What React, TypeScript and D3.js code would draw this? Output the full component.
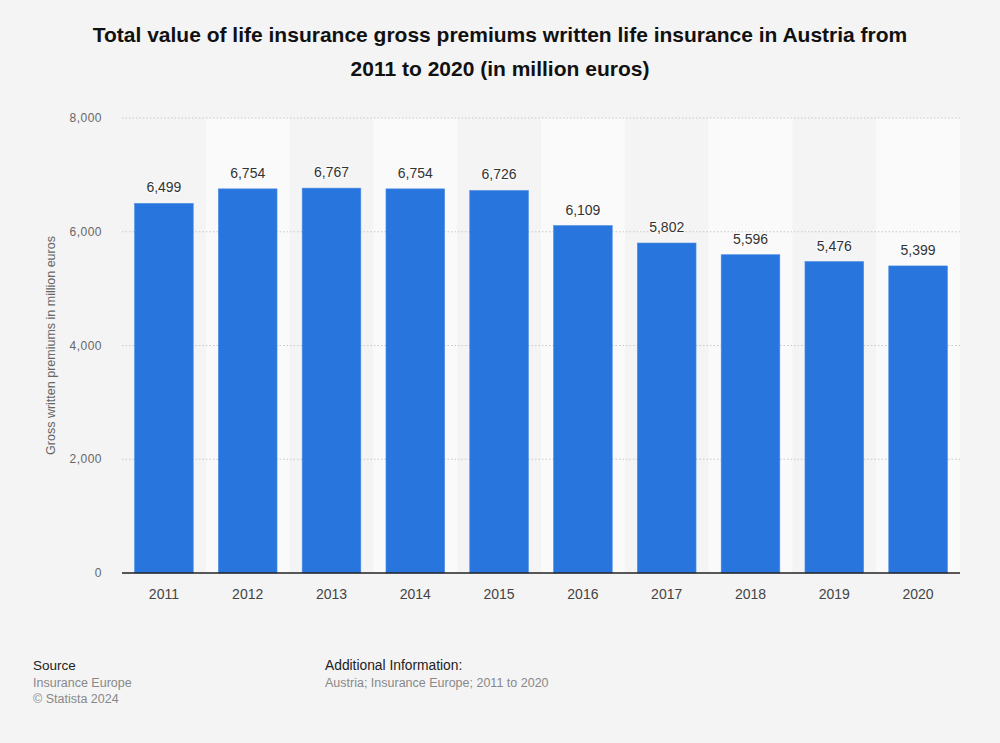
import React from "react";
import * as d3 from "d3";

const years = ["2011", "2012", "2013", "2014", "2015", "2016", "2017", "2018", "2019", "2020"];
const premiums = [6499, 6754, 6767, 6754, 6726, 6109, 5802, 5596, 5476, 5399];
const yTicks = [0, 2000, 4000, 6000, 8000];

const W = 1000;
const H = 743;
const M = { left: 122, right: 960, top: 118, bottom: 573 };

export default function App() {
  const x = d3.scaleBand<string>().domain(years).range([M.left, M.right]).paddingInner(0.3).paddingOuter(0.15);
  const xBand = d3.scaleBand<string>().domain(years).range([M.left, M.right]).padding(0);
  const y = d3.scaleLinear().domain([0, 8000]).range([M.bottom, M.top]);
  const fmt = d3.format(",");
  const font = "'Liberation Sans', Arial, sans-serif";

  return (
    <svg width={W} height={H} style={{ position: "absolute", left: 0, top: 0, background: "#f4f4f4" }} fontFamily={font}>
      <rect x={0} y={0} width={W} height={H} fill="#f4f4f4" />
      {years.map((yr, i) =>
        i % 2 === 1 ? (
          <rect key={"b" + yr} x={xBand(yr)} y={M.top} width={xBand.bandwidth()} height={M.bottom - M.top} fill="#fafafa" />
        ) : null
      )}
      <text x={500} y={42} textAnchor="middle" fontSize={21} fontWeight="bold" fill="#111">
        Total value of life insurance gross premiums written life insurance in Austria from
      </text>
      <text x={500} y={76} textAnchor="middle" fontSize={21} fontWeight="bold" fill="#111">
        2011 to 2020 (in million euros)
      </text>
      {yTicks.map((t) => (
        <g key={"t" + t}>
          {t > 0 && (
            <line x1={M.left} x2={M.right} y1={y(t)} y2={y(t)} stroke="#c8c8c8" strokeWidth={1} strokeDasharray="1.5,2" />
          )}
          <text x={102} y={y(t) + 4} textAnchor="end" fontSize={12} fill="#666" letterSpacing={0.5}>
            {fmt(t)}
          </text>
        </g>
      ))}
      {years.map((yr, i) => (
        <g key={"bar" + yr}>
          <rect
            x={x(yr)}
            y={y(premiums[i])}
            width={x.bandwidth()}
            height={M.bottom - y(premiums[i])}
            fill="#2876dd"
            stroke="#4a8ce3"
            strokeWidth={0.6}
          />
          <text
            x={(x(yr) as number) + x.bandwidth() / 2}
            y={y(premiums[i]) - 11}
            textAnchor="middle"
            fontSize={14}
            fill="#333"
            stroke="#fff"
            strokeWidth={2.5}
            paintOrder="stroke"
            strokeOpacity={0.6}
          >
            {fmt(premiums[i])}
          </text>
          <text x={(x(yr) as number) + x.bandwidth() / 2} y={599} textAnchor="middle" fontSize={14} fill="#444">
            {yr}
          </text>
        </g>
      ))}
      <line x1={M.left} x2={M.right} y1={M.bottom} y2={M.bottom} stroke="#222" strokeWidth={1.5} />
      <text
        transform={`translate(55,${(M.top + M.bottom) / 2}) rotate(-90)`}
        textAnchor="middle"
        fontSize={12.5}
        fill="#666"
      >
        Gross written premiums in million euros
      </text>
      <text x={33} y={670} fontSize={13.5} fill="#222">Source</text>
      <text x={33} y={687} fontSize={12.5} fill="#888">Insurance Europe</text>
      <text x={33} y={703} fontSize={12.5} fill="#888">© Statista 2024</text>
      <text x={325} y={670} fontSize={13.8} fill="#222">Additional Information:</text>
      <text x={325} y={687} fontSize={12.5} fill="#888">Austria; Insurance Europe; 2011 to 2020</text>
    </svg>
  );
}
